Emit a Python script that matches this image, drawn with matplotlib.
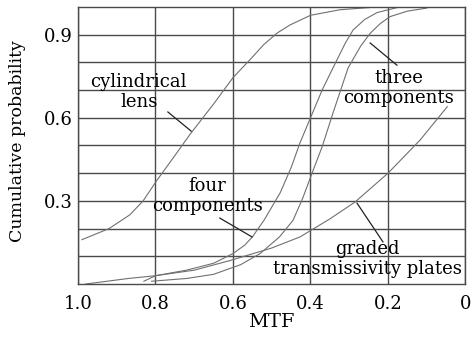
import matplotlib
matplotlib.use("Agg")
import matplotlib.pyplot as plt

plt.rcParams['font.family'] = ['DejaVu Serif']

# curves (MTF vs cumulative probability)
cyl_x = [0.99, 0.92, 0.866, 0.832, 0.796, 0.757, 0.711, 0.65, 0.60, 0.556, 0.52, 0.486, 0.453, 0.40, 0.324, 0.228]
cyl_y = [0.16, 0.20, 0.25, 0.30, 0.375, 0.45, 0.54, 0.65, 0.745, 0.81, 0.865, 0.906, 0.935, 0.97, 0.99, 1.0]

four_x = [0.83, 0.80, 0.72, 0.65, 0.60, 0.57, 0.55, 0.52, 0.478, 0.45, 0.427, 0.40, 0.37, 0.342, 0.31, 0.29, 0.26, 0.228, 0.17]
four_y = [0.01, 0.03, 0.05, 0.075, 0.11, 0.14, 0.17, 0.23, 0.33, 0.42, 0.51, 0.60, 0.70, 0.78, 0.87, 0.917, 0.955, 0.98, 1.0]

three_x = [0.81, 0.72, 0.65, 0.58, 0.53, 0.48, 0.445, 0.42, 0.396, 0.37, 0.342, 0.303, 0.27, 0.246, 0.22, 0.195, 0.15, 0.1]
three_y = [0.01, 0.02, 0.035, 0.07, 0.11, 0.17, 0.23, 0.31, 0.40, 0.495, 0.617, 0.78, 0.86, 0.905, 0.94, 0.965, 0.985, 0.996]

graded_x = [0.98, 0.87, 0.80, 0.70, 0.607, 0.50, 0.427, 0.35, 0.285, 0.20, 0.117, 0.047]
graded_y = [0.0, 0.02, 0.03, 0.05, 0.085, 0.13, 0.17, 0.235, 0.296, 0.40, 0.52, 0.64]

x_ticks = [1.0, 0.8, 0.6, 0.4, 0.2, 0.0]
x_labels = ["1.0", "0.8", "0.6", "0.4", "0.2", "0"]
y_grid = [0.1, 0.2, 0.3, 0.4, 0.5, 0.6, 0.7, 0.8, 0.9]
y_labels = ["", "", "0.3", "", "", "0.6", "", "", "0.9"]

fig = plt.figure(figsize=(4.71, 3.39), dpi=100)
ax = fig.add_axes([0.1656, 0.1622, 0.8227, 0.8172])

line_c = "#707070"
grid_c = "#4a4a4a"

ax.plot(cyl_x, cyl_y, color=line_c, lw=0.8)
ax.plot(four_x, four_y, color=line_c, lw=0.8)
ax.plot(three_x, three_y, color=line_c, lw=0.8)
ax.plot(graded_x, graded_y, color=line_c, lw=0.8)

ax.set_xlim(1.0, 0.0)
ax.set_ylim(0.0, 1.0)
ax.set_xticks(x_ticks)
ax.set_xticklabels(x_labels, fontsize=13)
ax.set_yticks(y_grid)
ax.set_yticklabels(y_labels, fontsize=13)
ax.tick_params(axis="x", length=0, pad=8)
ax.tick_params(axis="y", length=0, pad=4)
ax.grid(True, color=grid_c, lw=1.0)
ax.set_axisbelow(True)
for s in ax.spines.values():
    s.set_color(grid_c)
    s.set_linewidth(1.0)

ax.set_xlabel("MTF", fontsize=14, labelpad=0)
ax.set_ylabel("Cumulative probability", fontsize=12.5)
ax.yaxis.set_label_coords(-0.135, 0.516)

# labels with pointer lines
notes = [
    ("cylindrical\nlens", 0.843, 0.693, (0.768, 0.708), (0.621, 0.552)),
    ("four\ncomponents", 0.667, 0.318, (0.634, 0.551), (0.238, 0.17)),
    ("three\ncomponents", 0.172, 0.708, (0.246, 0.177), (0.87, 0.79)),
    ("graded\ntransmissivity plates", 0.254, 0.09, (0.28, 0.213), (0.292, 0.152)),
]
for txt, tx, ty, px, py in notes:
    ax.text(tx, ty, txt, fontsize=13, ha="center", va="center", linespacing=1.1)
    ax.plot(px, py, color="#222222", lw=0.9)

fig.savefig("out.png", dpi=100)
